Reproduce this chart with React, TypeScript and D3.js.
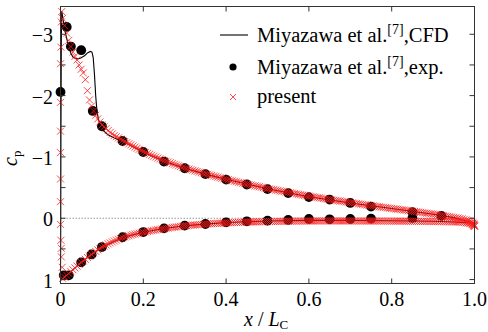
import React from "react";
import * as d3 from "d3";

// ---------- data ----------
const xTicks = [0, 0.2, 0.4, 0.6, 0.8, 1.0];
const xTickLabels = ["0", "0.2", "0.4", "0.6", "0.8", "1.0"];
const yTicks = [-3, -2, -1, 0, 1];
const yTickLabels = ["\u22123", "\u22122", "\u22121", "0", "1"];
const yMinorTicks = [-3, -2.5, -2, -1.5, -1, -0.5, 0, 0.5, 1];

// CFD (Miyazawa et al.)
const cfdUpperX = [0, 0.0005, 0.001, 0.002, 0.003, 0.006, 0.01, 0.015, 0.02, 0.025, 0.03, 0.038, 0.048, 0.058, 0.066, 0.072, 0.076, 0.079, 0.082, 0.085, 0.088, 0.092, 0.097, 0.105, 0.115, 0.13, 0.15, 0.2, 0.25, 0.3, 0.35, 0.4, 0.5, 0.6, 0.7, 0.8, 0.9, 0.95, 1.0];
const cfdUpperCp = [0.95, 0.3, -1.2, -2.9, -3.38, -3.25, -3.08, -2.93, -2.79, -2.69, -2.63, -2.6, -2.61, -2.65, -2.7, -2.72, -2.71, -2.62, -2.35, -2.0, -1.75, -1.6, -1.5, -1.42, -1.36, -1.31, -1.25, -1.08, -0.93, -0.815, -0.72, -0.635, -0.48, -0.35, -0.25, -0.16, -0.065, -0.01, 0.08];
const cfdLowerX = [0, 0.002, 0.004, 0.008, 0.015, 0.025, 0.05, 0.075, 0.1, 0.15, 0.2, 0.25, 0.3, 0.35, 0.4, 0.5, 0.6, 0.7, 0.8, 0.9, 0.95, 1.0];
const cfdLowerCp = [0.95, 1.0, 1.0, 0.97, 0.93, 0.87, 0.72, 0.59, 0.475, 0.315, 0.228, 0.168, 0.123, 0.095, 0.07, 0.045, 0.035, 0.035, 0.04, 0.05, 0.06, 0.08];

// Experiment (Miyazawa et al.)
const expUpperX = [0, 0.015, 0.025, 0.05, 0.078, 0.1, 0.15, 0.2, 0.25, 0.3, 0.35, 0.4, 0.45, 0.5, 0.55, 0.6, 0.65, 0.7, 0.75, 0.85, 0.92];
const expUpperCp = [-2.06, -3.12, -2.8, -2.74, -1.75, -1.5, -1.26, -1.08, -0.925, -0.815, -0.72, -0.63, -0.55, -0.475, -0.41, -0.345, -0.305, -0.25, -0.19, -0.1, -0.04];
const expLowerX = [0.008, 0.02, 0.05, 0.075, 0.1, 0.15, 0.2, 0.25, 0.3, 0.35, 0.4, 0.45, 0.5, 0.55, 0.6, 0.65, 0.7, 0.75, 0.85];
const expLowerCp = [0.93, 0.93, 0.72, 0.59, 0.47, 0.31, 0.225, 0.165, 0.12, 0.094, 0.066, 0.05, 0.04, 0.028, 0.012, 0.017, 0.012, 0.006, -0.005];

// Present (leading-edge points at x ~ 0)
const presentLEX = [0.003, 0.002, 0.001, 0, 0, 0, 0, 0, 0, 0, 0.001, 0.002, 0.002, 0.004];
const presentLECp = [-3.37, -3.2, -2.79, -2.52, -1.89, -1.42, -1.07, -0.64, -0.27, 0.1, 0.36, 0.49, 0.63, 0.8];

// Present (surface points)
const presentX = [
  0.005, 0.01, 0.015, 0.02, 0.025, 0.03, 0.035, 0.04, 0.045, 0.05,
  0.055, 0.06, 0.065, 0.07, 0.075, 0.08, 0.085, 0.09, 0.095, 0.1,
  0.105, 0.11, 0.115, 0.12, 0.125, 0.13, 0.135, 0.14, 0.145, 0.15,
  0.155, 0.16, 0.165, 0.17, 0.175, 0.18, 0.185, 0.19, 0.195, 0.2,
  0.205, 0.21, 0.215, 0.22, 0.225, 0.23, 0.235, 0.24, 0.245, 0.25,
  0.255, 0.26, 0.265, 0.27, 0.275, 0.28, 0.285, 0.29, 0.295, 0.3,
  0.305, 0.31, 0.315, 0.32, 0.325, 0.33, 0.335, 0.34, 0.345, 0.35,
  0.355, 0.36, 0.365, 0.37, 0.375, 0.38, 0.385, 0.39, 0.395, 0.4,
  0.405, 0.41, 0.415, 0.42, 0.425, 0.43, 0.435, 0.44, 0.445, 0.45,
  0.455, 0.46, 0.465, 0.47, 0.475, 0.48, 0.485, 0.49, 0.495, 0.5,
  0.505, 0.51, 0.515, 0.52, 0.525, 0.53, 0.535, 0.54, 0.545, 0.55,
  0.555, 0.56, 0.565, 0.57, 0.575, 0.58, 0.585, 0.59, 0.595, 0.6,
  0.605, 0.61, 0.615, 0.62, 0.625, 0.63, 0.635, 0.64, 0.645, 0.65,
  0.655, 0.66, 0.665, 0.67, 0.675, 0.68, 0.685, 0.69, 0.695, 0.7,
  0.705, 0.71, 0.715, 0.72, 0.725, 0.73, 0.735, 0.74, 0.745, 0.75,
  0.755, 0.76, 0.765, 0.77, 0.775, 0.78, 0.785, 0.79, 0.795, 0.8,
  0.805, 0.81, 0.815, 0.82, 0.825, 0.83, 0.835, 0.84, 0.845, 0.85,
  0.855, 0.86, 0.865, 0.87, 0.875, 0.88, 0.885, 0.89, 0.895, 0.9,
  0.905, 0.91, 0.915, 0.92, 0.925, 0.93, 0.935, 0.94, 0.945, 0.95,
  0.955, 0.96, 0.965, 0.97, 0.975, 0.98, 0.984, 0.988, 0.991, 0.994,
  0.996, 0.998, 0.999, 1.0,
];
const presentUpper = [
  -3.26, -3.14, -3.02, -2.9, -2.8, -2.71, -2.64, -2.58, -2.5, -2.43,
  -2.37, -2.26, -2.08, -1.93, -1.83, -1.75, -1.68, -1.62, -1.57, -1.52,
  -1.49, -1.46, -1.43, -1.4, -1.375, -1.35, -1.33, -1.31, -1.29, -1.27,
  -1.251, -1.232, -1.214, -1.196, -1.178, -1.16, -1.142, -1.124, -1.107, -1.09,
  -1.074, -1.058, -1.042, -1.027, -1.012, -0.997, -0.982, -0.968, -0.954, -0.94,
  -0.928, -0.916, -0.904, -0.892, -0.88, -0.868, -0.856, -0.844, -0.832, -0.82,
  -0.81, -0.801, -0.791, -0.782, -0.772, -0.763, -0.753, -0.744, -0.734, -0.725,
  -0.716, -0.707, -0.698, -0.689, -0.68, -0.671, -0.662, -0.653, -0.644, -0.635,
  -0.627, -0.619, -0.611, -0.603, -0.595, -0.587, -0.579, -0.571, -0.563, -0.555,
  -0.548, -0.541, -0.534, -0.527, -0.52, -0.513, -0.506, -0.499, -0.492, -0.485,
  -0.479, -0.472, -0.466, -0.459, -0.453, -0.446, -0.44, -0.433, -0.427, -0.42,
  -0.414, -0.408, -0.402, -0.396, -0.39, -0.384, -0.378, -0.372, -0.366, -0.36,
  -0.355, -0.349, -0.344, -0.338, -0.333, -0.327, -0.322, -0.316, -0.311, -0.305,
  -0.3, -0.295, -0.29, -0.285, -0.28, -0.275, -0.27, -0.265, -0.26, -0.255,
  -0.25, -0.245, -0.24, -0.235, -0.23, -0.225, -0.22, -0.215, -0.21, -0.205,
  -0.2, -0.196, -0.191, -0.187, -0.182, -0.178, -0.173, -0.169, -0.164, -0.16,
  -0.156, -0.151, -0.147, -0.142, -0.138, -0.133, -0.129, -0.124, -0.12, -0.115,
  -0.11, -0.106, -0.101, -0.096, -0.092, -0.087, -0.082, -0.077, -0.073, -0.068,
  -0.063, -0.057, -0.052, -0.047, -0.042, -0.036, -0.031, -0.026, -0.02, -0.015,
  -0.009, -0.003, 0.004, 0.011, 0.019, 0.028, 0.037, 0.047, 0.056, 0.066,
  0.08, 0.095, 0.11, 0.13,
];
const presentLower = [
  0.98, 0.96, 0.93, 0.9, 0.87, 0.84, 0.81, 0.78, 0.75, 0.72,
  0.695, 0.67, 0.64, 0.615, 0.59, 0.565, 0.54, 0.515, 0.492, 0.47,
  0.452, 0.435, 0.418, 0.402, 0.386, 0.371, 0.356, 0.342, 0.328, 0.315,
  0.305, 0.295, 0.285, 0.276, 0.267, 0.259, 0.251, 0.244, 0.237, 0.23,
  0.223, 0.217, 0.21, 0.204, 0.198, 0.192, 0.186, 0.181, 0.175, 0.17,
  0.165, 0.16, 0.155, 0.151, 0.146, 0.142, 0.138, 0.133, 0.129, 0.125,
  0.122, 0.118, 0.115, 0.112, 0.109, 0.106, 0.103, 0.101, 0.098, 0.095,
  0.093, 0.091, 0.089, 0.087, 0.085, 0.083, 0.081, 0.079, 0.077, 0.075,
  0.074, 0.072, 0.071, 0.07, 0.068, 0.067, 0.066, 0.065, 0.063, 0.062,
  0.061, 0.06, 0.06, 0.059, 0.058, 0.057, 0.057, 0.056, 0.055, 0.054,
  0.053, 0.053, 0.052, 0.052, 0.051, 0.05, 0.05, 0.049, 0.049, 0.048,
  0.048, 0.047, 0.047, 0.047, 0.046, 0.046, 0.046, 0.045, 0.045, 0.045,
  0.045, 0.045, 0.044, 0.044, 0.044, 0.044, 0.044, 0.044, 0.044, 0.044,
  0.044, 0.044, 0.044, 0.044, 0.044, 0.044, 0.044, 0.044, 0.045, 0.045,
  0.045, 0.045, 0.045, 0.045, 0.045, 0.045, 0.045, 0.045, 0.045, 0.045,
  0.045, 0.045, 0.046, 0.046, 0.046, 0.046, 0.046, 0.046, 0.047, 0.047,
  0.047, 0.047, 0.047, 0.048, 0.048, 0.048, 0.048, 0.048, 0.049, 0.049,
  0.049, 0.05, 0.05, 0.051, 0.051, 0.052, 0.052, 0.053, 0.053, 0.054,
  0.054, 0.055, 0.055, 0.056, 0.056, 0.057, 0.057, 0.058, 0.058, 0.059,
  0.06, 0.062, 0.064, 0.067, 0.07, 0.074, 0.078, 0.083, 0.088, 0.094,
  0.1, 0.11, 0.12, 0.13,
];

const legendLabels = ["Miyazawa et al.", "[7]", ",CFD", ",exp.", "present"];

// ---------- layout ----------
const W = 488;
const H = 332;
const FONT = "'Liberation Serif'";
const RED = "#ff1a1a";
const TS: React.CSSProperties = { fontFamily: FONT };

export default function App() {
  const x = d3.scaleLinear().domain([0, 1]).range([60.5, 474.5]);
  const y = d3.scaleLinear().domain([-3.453, 1.064]).range([6.5, 283.5]);
  const [x0, x1] = x.range();
  const [y0, y1] = y.range();

  const line = d3
    .line<[number, number]>()
    .x((d) => x(d[0]))
    .y((d) => y(d[1]));

  const cfdUpper = line(cfdUpperX.map((v, i) => [v, cfdUpperCp[i]] as [number, number])) || "";
  const cfdLower = line(cfdLowerX.map((v, i) => [v, cfdLowerCp[i]] as [number, number])) || "";

  const crossPts: [number, number][] = [];
  presentLEX.forEach((v, i) => crossPts.push([v, presentLECp[i]]));
  presentX.forEach((v, i) => {
    crossPts.push([v, presentUpper[i]]);
    crossPts.push([v, presentLower[i]]);
  });
  const cs = 3.5;
  const crossPath = (cx: number, cy: number, s: number) => {
    const p = d3.path();
    p.moveTo(cx - s, cy - s);
    p.lineTo(cx + s, cy + s);
    p.moveTo(cx - s, cy + s);
    p.lineTo(cx + s, cy - s);
    return p.toString();
  };
  const crosses = crossPts.map((d) => crossPath(x(d[0]), y(d[1]), cs)).join("");

  const dots: [number, number][] = [
    ...expUpperX.map((v, i) => [v, expUpperCp[i]] as [number, number]),
    ...expLowerX.map((v, i) => [v, expLowerCp[i]] as [number, number]),
  ];

  const tickLen = 5;
  const axisColor = "#333";

  // legend geometry
  const lgX = 233;
  const lgRows = [35, 67, 97];
  const lgTextX = 257;
  const lgFont = 20.5;

  return (
    <svg
      width={W}
      height={H}
      viewBox={`0 0 ${W} ${H}`}
      style={{ position: "absolute", left: 0, top: 0, background: "#fff", fontFamily: FONT }}
    >
      <rect x={0} y={0} width={W} height={H} fill="#fff" />

      {/* zero line */}
      <line x1={x0} x2={x1} y1={y(0)} y2={y(0)} stroke="#999" strokeWidth={1} strokeDasharray="1.5,1.5" />

      {/* CFD line */}
      <path d={cfdUpper} fill="none" stroke="#000" strokeWidth={1.1} />
      <path d={cfdLower} fill="none" stroke="#000" strokeWidth={1.1} />

      {/* experiment dots */}
      {dots.map((d, i) => (
        <circle key={i} cx={x(d[0])} cy={y(d[1])} r={4.9} fill="#000" />
      ))}

      {/* present crosses */}
      <path d={crosses} fill="none" stroke={RED} strokeWidth={0.8} />

      {/* frame */}
      <rect x={x0} y={y0} width={x1 - x0} height={y1 - y0} fill="none" stroke={axisColor} strokeWidth={1} />

      {/* ticks */}
      {xTicks.map((t, i) => (
        <g key={"xt" + i}>
          <line x1={x(t)} x2={x(t)} y1={y1} y2={y1 - tickLen} stroke={axisColor} />
          <line x1={x(t)} x2={x(t)} y1={y0} y2={y0 + tickLen} stroke={axisColor} />
          <text x={x(t)} y={306} fontSize={20} textAnchor="middle" fill="#000" style={TS}>
            {xTickLabels[i]}
          </text>
        </g>
      ))}
      {yMinorTicks.map((t, i) => (
        <g key={"ym" + i}>
          <line x1={x0} x2={x0 + tickLen} y1={y(t)} y2={y(t)} stroke={axisColor} />
          <line x1={x1} x2={x1 - tickLen} y1={y(t)} y2={y(t)} stroke={axisColor} />
        </g>
      ))}
      {yTicks.map((t, i) => (
        <text key={"yl" + i} x={53} y={y(t) + 8} fontSize={20} textAnchor="end" fill="#000" style={TS}>
          {yTickLabels[i]}
        </text>
      ))}

      {/* axis titles */}
      <text transform="translate(17,166) rotate(-90)" fontSize={20} fill="#000" style={TS}>
        <tspan fontStyle="italic">c</tspan>
        <tspan fontSize={13} dy={4}>p</tspan>
      </text>
      <text x={244} y={326} fontSize={20} fill="#000" style={TS}>
        <tspan fontStyle="italic">x</tspan>
        <tspan> / </tspan>
        <tspan fontStyle="italic">L</tspan>
        <tspan fontSize={13} dy={3}>C</tspan>
      </text>

      {/* legend */}
      <line x1={220} x2={248} y1={lgRows[0]} y2={lgRows[0]} stroke="#000" strokeWidth={1.1} />
      <circle cx={lgX} cy={lgRows[1]} r={3.6} fill="#000" />
      <path d={crossPath(lgX, lgRows[2], 3)} fill="none" stroke={RED} strokeWidth={0.8} />

      <text x={lgTextX} y={lgRows[0] + 7} fontSize={lgFont} fill="#000" style={TS}>
        {legendLabels[0]}
        <tspan fontSize={14} dy={-8}>{legendLabels[1]}</tspan>
        <tspan dy={8}>{legendLabels[2]}</tspan>
      </text>
      <text x={lgTextX} y={lgRows[1] + 7} fontSize={lgFont} fill="#000" style={TS}>
        {legendLabels[0]}
        <tspan fontSize={14} dy={-8}>{legendLabels[1]}</tspan>
        <tspan dy={8}>{legendLabels[3]}</tspan>
      </text>
      <text x={lgTextX} y={lgRows[2] + 6} fontSize={lgFont} fill="#000" style={TS}>
        {legendLabels[4]}
      </text>
    </svg>
  );
}
